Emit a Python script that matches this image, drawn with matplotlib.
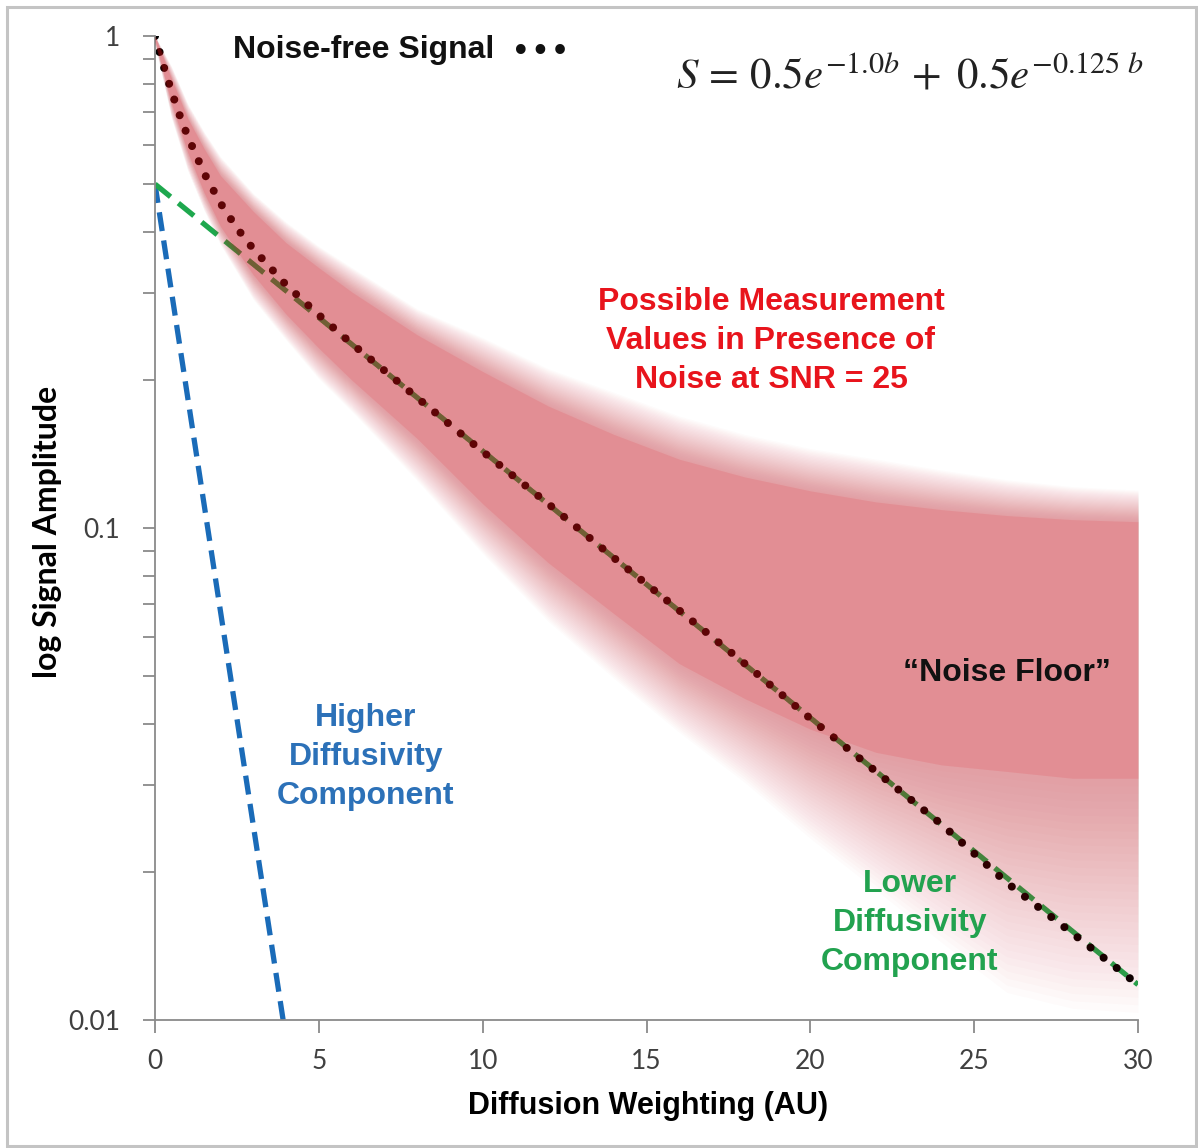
import numpy as np
import matplotlib
matplotlib.use('Agg')
import matplotlib.pyplot as plt
from matplotlib.patches import Rectangle
from matplotlib.ticker import NullFormatter, LogLocator

# ---------------- data ----------------
b_curve = [0, 0.25, 0.5, 0.75, 1, 1.5, 2, 2.5, 3, 4, 5, 6, 7, 8, 10, 12, 14,
           16, 18, 20, 22, 24, 26, 28, 30]
signal_free = [1.0, 0.874, 0.773, 0.691, 0.625, 0.526, 0.457, 0.407, 0.369,
               0.312, 0.271, 0.237, 0.209, 0.184, 0.143, 0.112, 0.087, 0.068,
               0.053, 0.041, 0.032, 0.025, 0.019, 0.015, 0.0118]

b_fast = [0, 3.91]
fast_comp = [0.5, 0.01]

b_slow = [0, 30]
slow_comp = [0.5, 0.0118]

b_cloud = [0, 0.5, 1, 1.5, 2, 3, 4, 5, 6, 8, 10, 12, 14, 16, 18, 20, 22, 24,
           26, 28, 30]
cloud_outer_hi = [1.0, 0.87, 0.73, 0.64, 0.57, 0.48, 0.42, 0.375, 0.34, 0.28,
                  0.245, 0.212, 0.19, 0.17, 0.156, 0.146, 0.139, 0.132, 0.126,
                  0.122, 0.12]
cloud_core_hi = [1.0, 0.82, 0.68, 0.59, 0.52, 0.44, 0.38, 0.338, 0.302,
                 0.247, 0.208, 0.177, 0.155, 0.138, 0.127, 0.119, 0.113, 0.109,
                 0.106, 0.104, 0.103]
cloud_core_lo = [0.98, 0.73, 0.58, 0.48, 0.41, 0.327, 0.272, 0.232, 0.2,
                 0.152, 0.112, 0.085, 0.067, 0.053, 0.045, 0.039, 0.035, 0.033,
                 0.032, 0.031, 0.031]
cloud_outer_lo = [0.96, 0.68, 0.53, 0.44, 0.375, 0.29, 0.24, 0.2, 0.172,
                  0.124, 0.088, 0.064, 0.049, 0.038, 0.030, 0.023, 0.018,
                  0.014, 0.011, 0.0102, 0.010]

x_ticks = [0, 5, 10, 15, 20, 25, 30]
y_ticks = [0.01, 0.1, 1]
y_ticklabels = ['0.01', '0.1', '1']

# ---------------- figure ----------------
W, H = 1198, 1148
fig = plt.figure(figsize=(W / 100, H / 100), dpi=100)
fig.patch.set_facecolor('white')
plt.rcParams['mathtext.fontset'] = 'stix'
L, R, T, B = 155, 1138, 36, 1020
ax = fig.add_axes([L / W, 1 - B / H, (R - L) / W, (B - T) / H])


def axpos(x, y):
    return (x - L) / (R - L), (B - y) / (B - T)


ax.set_yscale('log')
ax.set_xlim(0, 30)
ax.set_ylim(0.01, 1)

# component lines (under the cloud)
ax.plot(b_fast, fast_comp, color='#1A6BB8', lw=3.8, ls=(0, (3.6, 1.8)),
        zorder=2)
ax.plot(b_slow, slow_comp, color='#1EA84E', lw=3.8, ls=(0, (3.8, 1.9)),
        zorder=2)
ax.plot(b_curve, signal_free, color='black', lw=5.8, ls=(0, (0.01, 2.05)),
        dash_capstyle='round', zorder=2.5)

# noise cloud: nested bands from outer (sparse) to core (dense)
bc = np.array(b_cloud)
oh = np.log10(cloud_outer_hi)
ch = np.log10(cloud_core_hi)
cl = np.log10(cloud_core_lo)
ol = np.log10(cloud_outer_lo)
cloud_color = '#E22A34'
N = 32
for i in range(N):
    t = (i + 1) / N
    hi = 10 ** (oh + (ch - oh) * t)
    lo = 10 ** (ol + (cl - ol) * t)
    ax.fill_between(bc, lo, hi, color=cloud_color, alpha=0.015, lw=0,
                    zorder=3)
ax.fill_between(bc, cloud_core_lo, cloud_core_hi, color=cloud_color,
                alpha=0.13, lw=0, zorder=3)

# axes styling
for s in ['top', 'right']:
    ax.spines[s].set_visible(False)
for s in ['left', 'bottom']:
    ax.spines[s].set_color('#8a8a8a')
    ax.spines[s].set_linewidth(1.3)
ax.set_xticks(x_ticks)
ax.set_xticklabels([str(v) for v in x_ticks])
ax.set_yticks(y_ticks)
ax.set_yticklabels(y_ticklabels)
ax.yaxis.set_minor_locator(LogLocator(base=10, subs=np.arange(2, 10)))
ax.yaxis.set_minor_formatter(NullFormatter())
ax.tick_params(axis='both', which='both', direction='out', length=9,
               width=1.3, color='#8a8a8a')
ax.tick_params(axis='x', labelsize=19, labelcolor='#404040', pad=12)
ax.tick_params(axis='y', which='major', labelsize=19, labelcolor='#404040',
               pad=16)
for lab in ax.get_xticklabels() + ax.get_yticklabels():
    lab.set_fontfamily('Lato')

ax.set_xlabel('Diffusion Weighting (AU)', fontsize=22, fontweight='bold',
              family='Liberation Sans', va='center')
ax.xaxis.set_label_coords(*axpos(648, 1106))
ax.set_ylabel('log Signal Amplitude', fontsize=23, fontweight='bold',
              family='Lato', va='center', ha='center')
ax.yaxis.set_label_coords(*axpos(48, 532))

# annotations
tk = dict(transform=ax.transAxes, fontweight='bold', family='Liberation Sans',
          zorder=5)
ax.text(*axpos(233, 50), 'Noise-free Signal', fontsize=23, ha='left',
        va='center', color='#111111', **tk)
ax.text(*axpos(540, 52), '\u2022\u2022\u2022', fontsize=24, ha='center',
        va='center', color='#111111', transform=ax.transAxes,
        family='DejaVu Sans', zorder=5)
ax.text(*axpos(910, 76), r'$S\,=\,0.5e^{-1.0b}\,+\;0.5e^{-0.125\ b}$',
        fontsize=31, ha='center', va='center', color='#222222',
        transform=ax.transAxes, zorder=5)
ax.text(*axpos(771, 341),
        'Possible Measurement\nValues in Presence of\nNoise at SNR = 25',
        fontsize=23, ha='center', va='center', color='#E8141C',
        linespacing=1.38, **tk)
ax.text(*axpos(366, 757), 'Higher\nDiffusivity\nComponent', fontsize=23,
        ha='center', va='center', color='#2C71B8', linespacing=1.38, **tk)
ax.text(*axpos(910, 923), 'Lower\nDiffusivity\nComponent', fontsize=23,
        ha='center', va='center', color='#22A24F', linespacing=1.38, **tk)
ax.text(*axpos(1007, 673), '\u201cNoise Floor\u201d', fontsize=23,
        ha='center', va='center', color='#111111', **tk)

# outer frame of the picture
fig.patches.append(Rectangle((7 / W, 1 - 1146 / H), (1196 - 7) / W,
                             (1146 - 7) / H, transform=fig.transFigure,
                             fill=False, edgecolor='#c4c4c4', lw=2.2))

fig.savefig('out.png', dpi=100, facecolor='white')
